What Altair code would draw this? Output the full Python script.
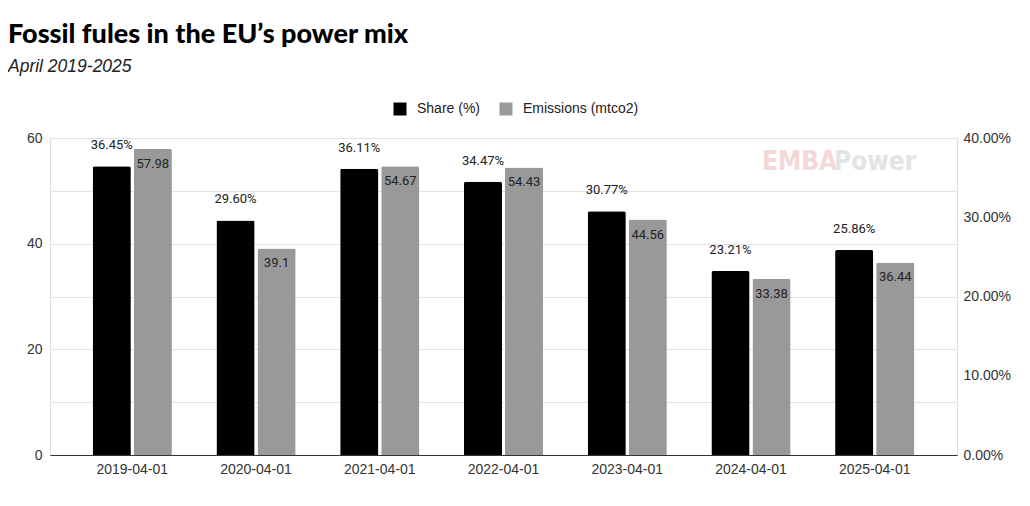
import altair as alt
import pandas as pd

dates = ["2019-04-01", "2020-04-01", "2021-04-01", "2022-04-01",
         "2023-04-01", "2024-04-01", "2025-04-01"]
share_pct = [36.45, 29.60, 36.11, 34.47, 30.77, 23.21, 25.86]
emissions = [57.98, 39.1, 54.67, 54.43, 44.56, 33.38, 36.44]
series_names = ["Share (%)", "Emissions (mtco2)"]
series_colors = ["#000000", "#999999"]
left_ticks = [0, 10, 20, 30, 40, 50, 60]
right_ticks = [0, 0.1, 0.2, 0.3, 0.4]

df = pd.DataFrame({
    "date": dates,
    "share": [v / 100 for v in share_pct],
    "emissions": emissions,
})

FONT = "Roboto"
AXF = "Liberation Sans"
TXT = "#333333"

x = alt.X("date:N", sort=dates, title=None,
          scale=alt.Scale(paddingInner=0.36, paddingOuter=0.345),
          axis=alt.Axis(labelAngle=0, ticks=False, domainColor="#333333",
                        labelFontSize=14, labelColor=TXT, labelPadding=7,
                        labelFont=AXF, grid=False))
xoff = alt.XOffset("series:N",
                   scale=alt.Scale(domain=series_names, paddingInner=0.07,
                                   paddingOuter=0))
color = alt.Color("series:N",
                  scale=alt.Scale(domain=series_names, range=series_colors),
                  legend=alt.Legend(orient="none", legendX=343, legendY=-36,
                                    direction="horizontal", title=None,
                                    symbolType="square", symbolSize=169,
                                    symbolStrokeWidth=0,
                                    labelFont="Liberation Sans",
                                    labelFontSize=14, labelColor="#222222",
                                    labelOffset=10, columnPadding=18,
                                    padding=0))

y_share = alt.Y("share:Q", title=None,
                scale=alt.Scale(domain=[0, 0.4], nice=False),
                axis=alt.Axis(orient="right", values=right_ticks, format=".2%",
                              grid=False, domain=False, ticks=False,
                              labelPadding=6, labelFont=AXF,
                              labelFontSize=14, labelColor=TXT))
y_em = alt.Y("emissions:Q", title=None,
             scale=alt.Scale(domain=[0, 60], nice=False),
             axis=alt.Axis(orient="left", values=left_ticks,
                           labelExpr="datum.value % 20 == 0 ? datum.label : ''",
                           grid=True, gridColor="#e2e2e2", domain=False,
                           ticks=False, labelPadding=8, labelFont=AXF,
                           labelFontSize=14, labelColor=TXT))

base_share = alt.Chart(df).transform_calculate(series="'Share (%)'")
share_bars = base_share.mark_bar(cornerRadiusTopLeft=2,
                                 cornerRadiusTopRight=2).encode(
    x=x, xOffset=xoff, y=y_share, color=color)
share_text = base_share.mark_text(baseline="alphabetic", dy=-17, font=FONT,
                                  fontSize=13, color="#222222").encode(
    x=x, xOffset=xoff, y=y_share, text=alt.Text("share:Q", format=".2%"))

base_em = alt.Chart(df).transform_calculate(series="'Emissions (mtco2)'")
em_bars = base_em.mark_bar(cornerRadiusTopLeft=2,
                           cornerRadiusTopRight=2).encode(
    x=x, xOffset=xoff, y=y_em, color=color)
em_text = base_em.mark_text(baseline="alphabetic", dy=19, font=FONT,
                            fontSize=13, color="#222222").encode(
    x=x, xOffset=xoff, y=y_em, text=alt.Text("emissions:Q"))

wm = pd.DataFrame({"w1": ["EMBA"], "w2": ["Power"]})
wm1 = alt.Chart(wm).mark_text(font="DejaVu Sans Condensed", fontWeight="bold",
                              fontSize=26, color="#f4d8d6", align="left",
                              baseline="alphabetic").encode(
    x=alt.value(712), y=alt.value(32), text="w1:N")
wm2 = alt.Chart(wm).mark_text(font="DejaVu Sans Condensed", fontWeight="bold",
                              fontSize=26, color="#e4e4e4", align="left",
                              baseline="alphabetic").encode(
    x=alt.value(784), y=alt.value(32), text="w2:N")

chart = alt.layer(
    wm1, wm2,
    alt.layer(em_bars, em_text),
    alt.layer(share_bars, share_text),
).resolve_scale(y="independent").properties(
    width=907, height=317,
    autosize=alt.AutoSizeParams(type="none"),
    padding={"left": 42, "top": 130, "right": 65, "bottom": 40},
    title=alt.TitleParams(
        text="Fossil fules in the EU’s power mix",
        subtitle="April 2019-2025",
        anchor="start", frame="group", dx=-42, dy=-22,
        font="Lato", fontSize=27, fontWeight=900,
        color="#000000",
        subtitleFont="Liberation Sans", subtitleFontStyle="italic",
        subtitleFontSize=17.5, subtitleColor="#222222", subtitlePadding=9),
).configure_view(stroke=None).configure(background="#ffffff")

chart.save("out.html", embed_options={"renderer": "svg", "actions": False})
